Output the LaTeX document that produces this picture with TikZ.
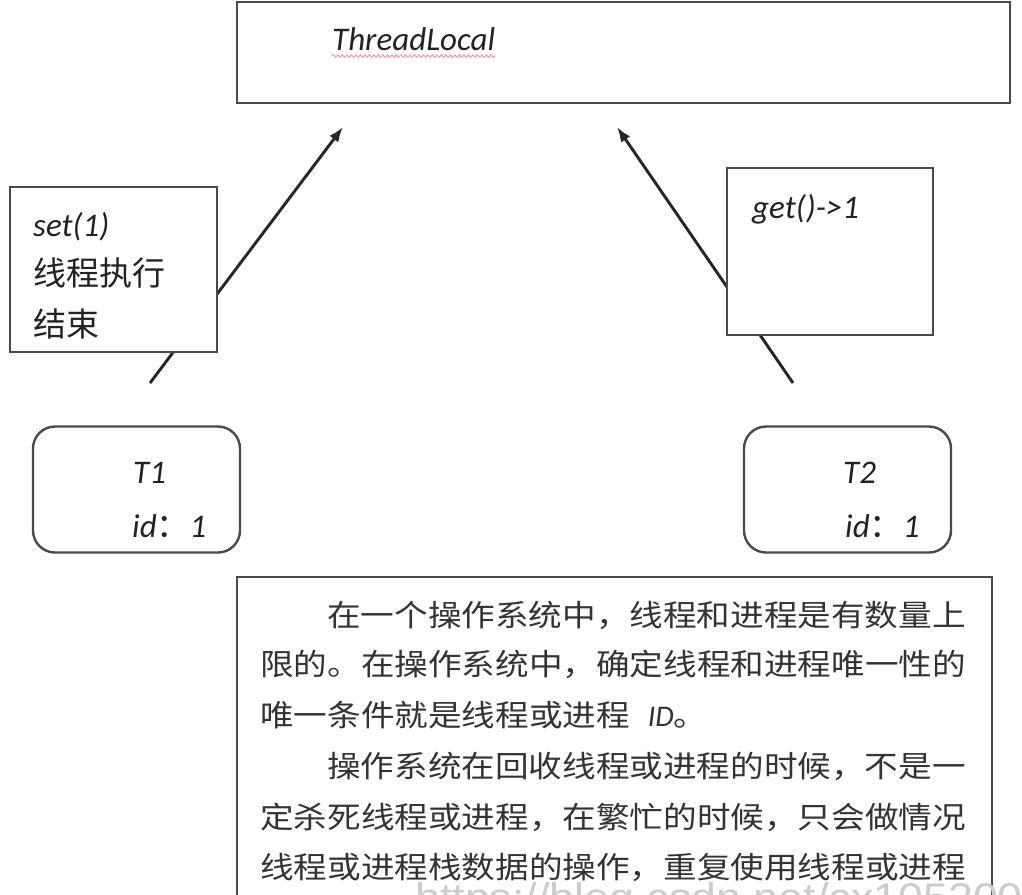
\documentclass[tikz,border=0pt]{standalone}
\usepackage{fontspec}
\setmainfont{Carlito}
\newfontfamily\cjk{Noto Sans CJK SC}
\newfontfamily\cjkwide[FakeStretch=1.12]{Noto Sans CJK SC}
\newfontfamily\wmfont[FakeStretch=1.12]{Liberation Sans}
\usetikzlibrary{arrows.meta,decorations.pathmorphing}
\definecolor{boxgray}{HTML}{4A4A4A}
\definecolor{txt}{HTML}{222222}
\definecolor{bodytxt}{HTML}{333333}
\begin{document}
\begin{tikzpicture}[x=1pt,y=-1pt,
  boxnode/.style={draw=boxgray, line width=2.4pt, fill=white, inner sep=0pt},
  lbl/.style={anchor=base west, inner sep=0pt, text=txt, font=\fontsize{33}{33}\selectfont\itshape},
  cjklbl/.style={anchor=base west, inner sep=0pt, text=txt, font=\fontsize{33}{33}\selectfont\cjk},
  bodyline/.style={anchor=base west, inner sep=0pt, text=bodytxt, font=\fontsize{30}{30}\selectfont\cjkwide},
  arrowline/.style={draw=black!85, line width=2.9pt, -{Latex[length=15pt,width=11pt]}}
]
\useasboundingbox (0,0) rectangle (1022,894);
\clip (0,0) rectangle (1022,894);
\fill[white] (0,0) rectangle (1022,894);

% connector end points
\coordinate (s1) at (150,383);
\coordinate (e1) at (343,127);
\coordinate (s2) at (793,383);
\coordinate (e2) at (617,127);
\draw[arrowline] (s1) -- (e1);
\draw[arrowline] (s2) -- (e2);

% top box
\node[boxnode, minimum width=773pt, minimum height=101pt] (tl) at (623.5,52.5) {};
\node[lbl] (tltext) at (332,50) {ThreadLocal};
\draw[draw=red!45, line width=0.8pt, decorate, decoration={snake, amplitude=1.3pt, segment length=4.5pt}]
  ([yshift=-6pt]tltext.base west) -- ([yshift=-6pt]tltext.base east);

% set box
\node[boxnode, minimum width=207pt, minimum height=165pt] (setbox) at (113.5,269.5) {};
\node[lbl] (settext) at (33,236) {set(1)};
\node[cjklbl] (setl2) at (33,285) {线程执行};
\node[cjklbl] (setl3) at (33,336) {结束};

% get box
\node[boxnode, minimum width=206pt, minimum height=167pt] (getbox) at (830,251.5) {};
\node[lbl] (gettext) at (752,218) {get()->1};

% thread boxes
\node[boxnode, rounded corners=22pt, minimum width=207pt, minimum height=126pt] (T1) at (136.5,489.5) {};
\node[lbl] (t1name) at (133,483) {T1};
\node[lbl] (t1id) at (132,537) {id{\cjk ：}1};
\node[boxnode, rounded corners=22pt, minimum width=207pt, minimum height=126pt] (T2) at (847.5,489.5) {};
\node[lbl] (t2name) at (843,483) {T2};
\node[lbl] (t2id) at (845,537) {id{\cjk ：}1};

% bottom text box
\node[boxnode, minimum width=755pt, minimum height=340pt] (note) at (614.5,747) {};
\node[bodyline] (n1) at (327,626) {在一个操作系统中，线程和进程是有数量上};
\node[bodyline] (n2) at (260,675) {限的。在操作系统中，确定线程和进程唯一性的};
\node[bodyline] (n3) at (260,726) {唯一条件就是线程或进程\hspace{18pt}{\fontspec{Carlito}\itshape ID}。};
\node[bodyline] (n4) at (327,777) {操作系统在回收线程或进程的时候，不是一};
\node[bodyline] (n5) at (260,828) {定杀死线程或进程，在繁忙的时候，只会做情况};
\node[bodyline] (n6) at (260,878) {线程或进程栈数据的操作，重复使用线程或进程};

% watermark
\node[anchor=base west, inner sep=0pt, text=black!20, font=\fontsize{40}{40}\selectfont\wmfont] (wm) at (415,911) {https://blog.csdn.net/cx105200};
\end{tikzpicture}
\end{document}
